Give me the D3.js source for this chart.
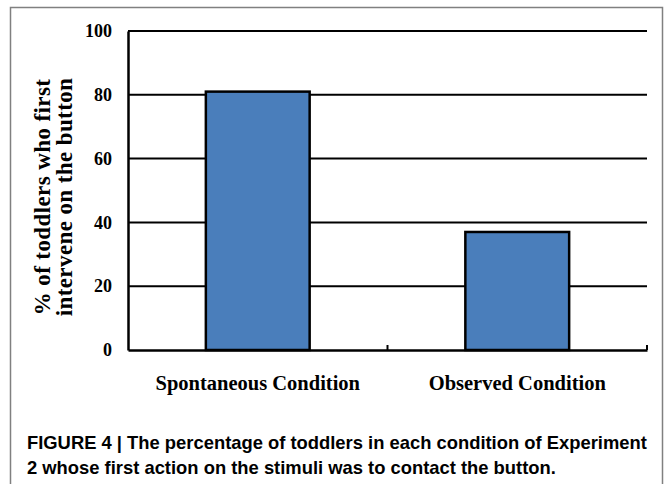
<!DOCTYPE html>
<html>
<head>
<meta charset="utf-8">
<script src="https://cdn.jsdelivr.net/npm/d3@7"></script>
<style>
  body { margin: 0; background: #fff; }
  svg { display: block; }
</style>
</head>
<body>
<script>
// chart data
var categories = ["Spontaneous Condition", "Observed Condition"];
var percentValues = [81, 37];
var yTicks = [0, 20, 40, 60, 80, 100];
var yLabelLines = ["% of toddlers who first", "intervene on the button"];
var captionLines = [
  "FIGURE 4 | The percentage of toddlers in each condition of Experiment",
  "2 whose first action on the stimuli was to contact the button."
];

var W = 665, H = 484;
var margin = {top: 31, right: 18, bottom: 134, left: 128},
    width = W - margin.left - margin.right,
    height = H - margin.top - margin.bottom;

var serif = "'Liberation Serif', 'Times New Roman', serif";

var svg = d3.select("body").append("svg")
    .attr("width", W)
    .attr("height", H);

// figure frame (open at the bottom)
svg.append("path")
    .attr("d", "M10.5," + H + "V7.5H662.5V" + H)
    .attr("fill", "none")
    .attr("stroke", "#808080")
    .attr("stroke-width", 1.5);

var g = svg.append("g")
    .attr("transform", "translate(" + margin.left + "," + margin.top + ")");

var x = d3.scaleBand()
    .domain(categories)
    .range([0, width])
    .paddingInner(0.6)
    .paddingOuter(0.3);

var y = d3.scaleLinear()
    .domain([0, 100])
    .range([height, 0]);

// gridlines
g.selectAll(".grid")
    .data(yTicks.filter(function(d) { return d > 0; }))
    .enter().append("line")
    .attr("class", "grid")
    .attr("x1", 0)
    .attr("x2", width)
    .attr("y1", function(d) { return y(d); })
    .attr("y2", function(d) { return y(d); })
    .attr("stroke", "#000")
    .attr("stroke-width", 2);

// bars
g.selectAll(".bar")
    .data(percentValues)
    .enter().append("rect")
    .attr("class", "bar")
    .attr("x", function(d, i) { return x(categories[i]); })
    .attr("width", x.bandwidth())
    .attr("y", function(d) { return y(d); })
    .attr("height", function(d) { return y(0) - y(d); })
    .attr("fill", "#4a7ebb")
    .attr("stroke", "#000")
    .attr("stroke-width", 2.5);

// y axis
var yAxis = d3.axisLeft(y).tickValues(yTicks).tickSize(0).tickPadding(16);
var ya = g.append("g").call(yAxis);
ya.select(".domain").attr("stroke", "#000").attr("stroke-width", 2.5);
ya.selectAll("text")
    .attr("font-family", serif)
    .attr("font-weight", "bold")
    .attr("font-size", "18px")
    .attr("fill", "#000");

// x axis
var xa = g.append("g")
    .attr("transform", "translate(0," + height + ")")
    .call(d3.axisBottom(x).tickSize(0).tickPadding(25));
xa.select(".domain").attr("stroke", "#000").attr("stroke-width", 2.5);
xa.selectAll("text")
    .attr("font-family", serif)
    .attr("font-weight", "bold")
    .attr("font-size", "20.5px")
    .attr("fill", "#000");

// category boundary ticks, pointing up
var bounds = categories.map(function(c) { return x(c) + x.bandwidth() + x.step() * x.paddingInner() / 2; });
g.selectAll(".xtick")
    .data(bounds)
    .enter().append("line")
    .attr("class", "xtick")
    .attr("x1", function(d) { return d; })
    .attr("x2", function(d) { return d; })
    .attr("y1", height)
    .attr("y2", height - 5)
    .attr("stroke", "#000")
    .attr("stroke-width", 2);

// y label
svg.selectAll(".ylabel")
    .data(yLabelLines)
    .enter().append("text")
    .attr("class", "ylabel")
    .attr("transform", "rotate(-90)")
    .attr("x", -197)
    .attr("y", function(d, i) { return 50 + i * 22; })
    .attr("text-anchor", "middle")
    .attr("font-family", serif)
    .attr("font-weight", "bold")
    .attr("font-size", "23px")
    .attr("letter-spacing", "0.4px")
    .text(function(d) { return d; });

// caption, squeezed horizontally to the narrow width of the original
var cap = svg.append("g");
cap.selectAll(".caption")
    .data(captionLines)
    .enter().append("text")
    .attr("class", "caption")
    .attr("x", 0)
    .attr("y", function(d, i) { return 449 + i * 25; })
    .attr("font-family", "'Liberation Sans', Arial, sans-serif")
    .attr("font-weight", "bold")
    .attr("font-size", "19px")
    .attr("fill", "#000")
    .text(function(d) { return d; });
var capLen = cap.select("text").node().getComputedTextLength();
cap.attr("transform", "translate(27,0) scale(" + (620 / capLen) + ",1)");
</script>
</body>
</html>
